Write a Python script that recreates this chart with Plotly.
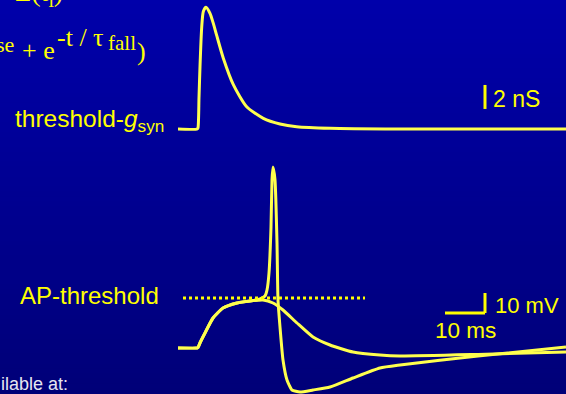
import plotly.graph_objects as go

W, H = 566, 394

# Synaptic conductance (nS) vs time (ms)
t_g = [-5, -0.2, 0, 0.25, 0.5, 0.93, 1.33, 2.0, 3.0, 3.83, 4.67, 6.33, 8.83, 12.17, 16.33, 20.5, 24.67, 33, 50, 92]
g_syn = [0, 0, 0.1, 2.6, 5.2, 8.5, 9.8, 10.15, 9.64, 8.8, 7.8, 5.9, 3.7, 1.86, 0.89, 0.42, 0.19, 0.06, 0, 0]

# Membrane potential (mV): trace that fires an action potential
t_spike = [-5, -0.2, 0, 0.6, 1.75, 3.75, 6.25, 9.75, 13, 15.5, 16.75, 17.25, 17.75, 18.25, 18.5, 18.75,
           19.25, 19.75, 20, 20.5, 21.25, 22.25, 23.5, 25.5, 28.75, 33, 38.75, 45.5, 50.5, 70, 92]
v_spike = [-70, -70, -69.8, -67, -62.5, -55, -50, -47.5, -46.5, -45.5, -44, -41, -32.5, -9.5, 14, 20.5,
           14, -17.5, -46, -59.5, -76, -86, -91, -92, -91, -89.5, -85, -80, -78.5, -74, -69.5]

# Membrane potential (mV): subthreshold response
t_sub = [-5, -0.2, 0, 0.6, 1.75, 3.75, 6.25, 9.75, 13, 16.25, 18.75, 21.25, 24.75, 28.75, 33, 38.75, 45.5, 50.5, 70, 92]
v_sub = [-70, -70, -69.8, -67, -62.5, -55, -50, -47.5, -46.5, -46, -47.5, -51, -57.5, -64.5, -68.5, -72, -73.5, -74, -73.2, -72]

ap_threshold = -45          # mV
threshold_span = [-3.75, 41.75]  # ms

# scale bars
bar_t = 71.75
bar_ms = 10
bar_mv = 10
bar_v0 = -52.5
bar_ns = 2
bar_g0 = 1.67

X_RANGE = [-49.5, 92]
G_RANGE = [-22.083, 10.75]
V_RANGE = [-93, 104]

TRACE = "#FFFF4D"
YELLOW = "#FFFF00"

fig = go.Figure()

fig.add_trace(go.Scatter(x=t_g, y=g_syn, mode="lines", yaxis="y",
                         line=dict(color=TRACE, width=3, shape="spline", smoothing=0.65),
                         hoverinfo="skip", showlegend=False))
line_style = dict(color=TRACE, width=3, shape="spline", smoothing=0.5)
fig.add_trace(go.Scatter(x=t_sub, y=v_sub, mode="lines", yaxis="y2", line=line_style,
                         hoverinfo="skip", showlegend=False))
fig.add_trace(go.Scatter(x=t_spike, y=v_spike, mode="lines", yaxis="y2", line=line_style,
                         hoverinfo="skip", showlegend=False))
fig.add_trace(go.Scatter(x=threshold_span, y=[ap_threshold, ap_threshold], mode="lines", yaxis="y2",
                         line=dict(color=YELLOW, width=3, dash="dot"),
                         hoverinfo="skip", showlegend=False))

shapes = []
# vertical background gradient
n_bands = 80
top = (0, 0, 170)
bot = (0, 0, 120)
for i in range(n_bands):
    f = i / (n_bands - 1)
    c = tuple(round(top[k] + (bot[k] - top[k]) * f) for k in range(3))
    shapes.append(dict(type="rect", xref="paper", yref="paper", layer="below",
                       x0=0, x1=1, y0=1 - (i + 1) / n_bands, y1=1 - i / n_bands + 0.002,
                       line=dict(width=0), fillcolor="rgb(%d,%d,%d)" % c))

# 2 nS bar
shapes.append(dict(type="line", xref="x", yref="y", x0=bar_t, x1=bar_t, y0=bar_g0, y1=bar_g0 + bar_ns,
                   line=dict(color=YELLOW, width=3)))
# 10 ms / 10 mV bars
shapes.append(dict(type="line", xref="x", yref="y2", x0=bar_t - bar_ms, x1=bar_t, y0=bar_v0, y1=bar_v0,
                   line=dict(color=YELLOW, width=3)))
shapes.append(dict(type="line", xref="x", yref="y2", x0=bar_t, x1=bar_t, y0=bar_v0, y1=bar_v0 + bar_mv,
                   line=dict(color=YELLOW, width=3)))


def ann(text, px, py, size, xanchor="left", yanchor="middle", family="Liberation Sans", color=YELLOW):
    return dict(text=text, xref="paper", yref="paper", x=px / W, y=1 - py / H,
                xanchor=xanchor, yanchor=yanchor, showarrow=False,
                font=dict(family=family, size=size, color=color), borderpad=0)


SERIF = "Liberation Serif"
annotations = [
    ann("Σ(t<sub>i</sub>)", 14, -7, 28, family=SERIF),
    ann("se", 15, 45, 22, xanchor="right", family=SERIF),
    ann("+ e", 21, 50, 26, family=SERIF),
    ann("-t / τ", 56, 37, 26, family=SERIF),
    ann("fall", 107, 43, 21, family=SERIF),
    ann(")", 136, 51, 26, family=SERIF),
    ann("threshold-<i>g</i><sub>syn</sub>", 165, 121, 24.5, xanchor="right"),
    ann("2 nS", 492, 99, 23),
    ann("AP-threshold", 160, 295, 24, xanchor="right"),
    ann("10 mV", 494, 305, 22),
    ann("10 ms", 434, 330, 22.5),
    ann("ilable at:", 0, 384, 18, color="#E6E6F0"),
]

fig.update_layout(
    width=W, height=H,
    margin=dict(l=0, r=0, t=0, b=0),
    paper_bgcolor="#00008C", plot_bgcolor="rgba(0,0,0,0)",
    xaxis=dict(range=X_RANGE, visible=False, fixedrange=True),
    yaxis=dict(range=G_RANGE, visible=False, fixedrange=True),
    yaxis2=dict(range=V_RANGE, visible=False, overlaying="y", fixedrange=True),
    shapes=shapes,
    annotations=annotations,
)

fig.write_html("out.html")
